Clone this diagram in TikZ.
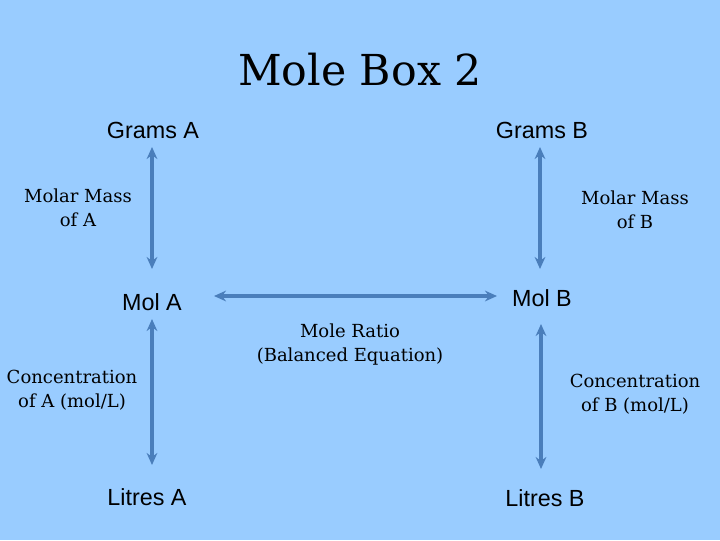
\documentclass[tikz,border=0pt]{standalone}
\usepackage{fontspec}
\setmainfont{DejaVu Serif}
\newfontfamily\lsans{Liberation Sans}
\usetikzlibrary{arrows.meta}
\definecolor{bg}{RGB}{153,204,255}
\definecolor{arr}{RGB}{74,126,187}
\begin{document}
\begin{tikzpicture}[x=0.75pt,y=-0.75pt,
  lab/.style={font=\lsans\fontsize{17.5}{20}\selectfont,inner sep=0},
  note/.style={font=\fontsize{13.5}{18}\selectfont,align=center,inner sep=0},
  dbl/.style={arr,line width=2.4pt,{Stealth[length=9pt,width=8pt]}-{Stealth[length=9pt,width=8pt]}}]
\fill[bg] (0,0) rectangle (720,540);
\node[font=\fontsize{32}{38}\selectfont] (title) at (360,70) {Mole Box 2};
\node[lab] (ga) at (153,130) {Grams A};
\node[lab] (gb) at (542,130) {Grams B};
\node[lab] (ma) at (152,302) {Mol A};
\node[lab] (mb) at (542,298) {Mol B};
\node[lab] (la) at (147,497) {Litres A};
\node[lab] (lb) at (545,498) {Litres B};
\node[note] (mma) at (78,208) {Molar Mass\\of A};
\node[note] (mmb) at (635,210) {Molar Mass\\of B};
\node[note] (mr) at (350,345) {Mole Ratio\\(Balanced Equation)};
\node[note] (ca) at (72,390) {Concentration\\of A (mol/L)};
\node[note] (cb) at (635,394) {Concentration\\of B (mol/L)};
\coordinate (a1) at (152,147); \coordinate (a2) at (152,269);
\coordinate (b1) at (540,147); \coordinate (b2) at (540,269);
\coordinate (h1) at (214,296); \coordinate (h2) at (497,296);
\coordinate (c1) at (152,319); \coordinate (c2) at (152,465);
\coordinate (d1) at (541,324); \coordinate (d2) at (541,469);
\draw[dbl] (a1) -- (a2);
\draw[dbl] (b1) -- (b2);
\draw[dbl] (h1) -- (h2);
\draw[dbl] (c1) -- (c2);
\draw[dbl] (d1) -- (d2);
\end{tikzpicture}
\end{document}
